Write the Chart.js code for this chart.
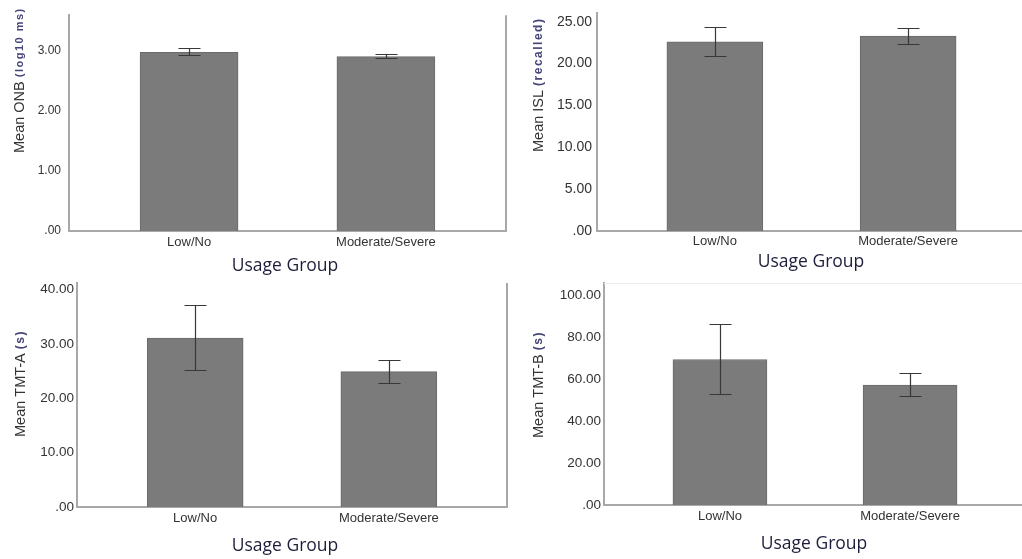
<!DOCTYPE html>
<html>
<head>
<meta charset="utf-8">
<script src="https://cdn.jsdelivr.net/npm/chart.js@4.4.1/dist/chart.umd.min.js"></script>
<style>
  html, body { margin: 0; padding: 0; background: #fff; }
  body { width: 1022px; height: 559px; position: relative; overflow: hidden; }
  canvas { position: absolute; }
</style>
</head>
<body>
<canvas id="onbChart"></canvas>
<canvas id="islChart"></canvas>
<canvas id="tmtaChart"></canvas>
<canvas id="tmtbChart"></canvas>
<script>
// categories
const groups = ['Low/No', 'Moderate/Severe'];

// ONB (log10 ms)
const onbMean = [2.98, 2.91];
const onbLow = [2.93, 2.88];
const onbHigh = [3.05, 2.95];
const onbTicks = [0, 1, 2, 3];

// ISL (recalled)
const islMean = [22.6, 23.3];
const islLow = [20.9, 22.4];
const islHigh = [24.4, 24.3];
const islTicks = [0, 5, 10, 15, 20, 25];

// TMT-A (s)
const tmtaMean = [31.1, 24.9];
const tmtaLow = [25.3, 22.8];
const tmtaHigh = [37.1, 27.0];
const tmtaTicks = [0, 10, 20, 30, 40];

// TMT-B (s)
const tmtbMean = [69.5, 57.3];
const tmtbLow = [52.8, 52.2];
const tmtbHigh = [86.7, 63.2];
const tmtbTicks = [0, 20, 40, 60, 80, 100];

const tickFmt = v => v === 0 ? '.00' : v.toFixed(2);

// draws error bars, frame lines and the axis titles
const decor = {
  id: 'decor',
  afterDatasetsDraw(chart, args, o) {
    const ctx = chart.ctx, x = chart.scales.x, y = chart.scales.y, a = chart.chartArea;
    ctx.save();
    ctx.strokeStyle = '#383838';
    ctx.lineWidth = 1.2;
    o.low.forEach((lo, i) => {
      const px = Math.round(x.getPixelForValue(i)) + 0.5;
      const y1 = Math.round(y.getPixelForValue(lo)) + 0.5;
      const y2 = Math.round(y.getPixelForValue(o.high[i])) + 0.5;
      ctx.beginPath();
      ctx.moveTo(px, y1); ctx.lineTo(px, y2);
      ctx.moveTo(px - 11, y1); ctx.lineTo(px + 11, y1);
      ctx.moveTo(px - 11, y2); ctx.lineTo(px + 11, y2);
      ctx.stroke();
    });
    if (o.frameRight) {
      ctx.strokeStyle = '#a8a8a8';
      ctx.lineWidth = 2;
      ctx.beginPath();
      ctx.moveTo(a.right, a.top); ctx.lineTo(a.right, a.bottom);
      ctx.stroke();
    }
    if (o.frameTop) {
      ctx.strokeStyle = '#ececec';
      ctx.lineWidth = 1;
      ctx.beginPath();
      ctx.moveTo(a.left, a.top + 0.5); ctx.lineTo(a.right, a.top + 0.5);
      ctx.stroke();
    }
    ctx.restore();
  },
  afterDraw(chart, args, o) {
    const ctx = chart.ctx;
    ctx.save();
    // y title, rotated, main part + small bold part
    ctx.translate(o.yTitle[0] - o.off[0], o.yTitle[1] - o.off[1]);
    ctx.rotate(-Math.PI / 2);
    ctx.textAlign = 'left';
    ctx.textBaseline = 'middle';
    ctx.font = '14.5px "Liberation Sans", Arial, sans-serif';
    ctx.fillStyle = '#333';
    ctx.fillText(o.yMain, 0, 0);
    const w = ctx.measureText(o.yMain).width;
    ctx.font = 'bold ' + o.subSize + 'px "Liberation Sans", Arial, sans-serif';
    ctx.letterSpacing = o.subSpacing + 'px';
    ctx.fillStyle = '#45457a';
    ctx.fillText(o.ySub, w + 4, 0);
    ctx.restore();
    // x title
    ctx.save();
    ctx.font = '17.5px "Open Sans", sans-serif';
    ctx.fillStyle = '#1e1e3c';
    ctx.textAlign = 'center';
    ctx.textBaseline = 'middle';
    ctx.fillText('Usage Group', o.xTitle[0] - o.off[0], o.xTitle[1] - o.off[1]);
    ctx.restore();
  }
};

function makePanel(id, p) {
  const cv = document.getElementById(id);
  cv.width = p.box[2]; cv.height = p.box[3];
  cv.style.left = p.box[0] + 'px'; cv.style.top = p.box[1] + 'px';
  new Chart(cv, {
    type: 'bar',
    data: {
      datasets: [{
        data: groups.map((g, i) => ({ x: i, y: p.mean[i] })),
        backgroundColor: '#7b7b7b',
        borderColor: '#6a6a6a',
        borderWidth: 1,
        barThickness: p.barW
      }]
    },
    plugins: [decor],
    options: {
      responsive: false,
      animation: false,
      devicePixelRatio: 1,
      layout: {
        padding: { left: 0, bottom: 0, top: p.T - p.box[1], right: p.box[0] + p.box[2] - p.R }
      },
      plugins: {
        legend: { display: false },
        tooltip: { enabled: false },
        decor: {
          low: p.low, high: p.high, off: [p.box[0], p.box[1]],
          yMain: p.yMain, ySub: p.ySub, subSize: p.subSize, subSpacing: p.subSpacing,
          yTitle: p.yTitle, xTitle: p.xTitle, frameRight: p.frameRight, frameTop: p.frameTop
        }
      },
      scales: {
        x: {
          type: 'linear',
          min: -0.61, max: 1.61,
          offset: false,
          grid: { display: false, drawTicks: false, offset: false },
          border: { color: '#a8a8a8', width: 2 },
          afterBuildTicks: s => { s.ticks = groups.map((g, i) => ({ value: i })); },
          afterFit: s => { s.height = p.box[1] + p.box[3] - p.B; },
          ticks: {
            autoSkip: false, maxRotation: 0, padding: p.xPad,
            color: '#333',
            font: { family: '"Liberation Sans", Arial, sans-serif', size: 13 },
            callback: v => groups[v]
          }
        },
        y: {
          min: 0, max: p.yMax,
          grid: { display: false, drawTicks: false },
          border: { color: '#a8a8a8', width: 2 },
          afterBuildTicks: s => { s.ticks = p.ticks.map(v => ({ value: v })); },
          afterFit: s => { s.width = p.L - p.box[0]; },
          ticks: {
            padding: p.yPad, color: '#333',
            font: { family: '"Liberation Sans", Arial, sans-serif', size: p.tickSize },
            callback: tickFmt
          }
        }
      }
    }
  });
}

makePanel('onbChart', {
  box: [0, 0, 511, 278], L: 69, R: 506, T: 7, B: 231, yMax: 3.6,
  mean: onbMean, low: onbLow, high: onbHigh, ticks: onbTicks, barW: 98,
  tickSize: 12, yPad: 8, xPad: 4,
  yMain: 'Mean ONB', ySub: '(log10 ms)', subSize: 11, subSpacing: 1.5,
  yTitle: [20, 153], xTitle: [285, 266], frameRight: true
});
makePanel('islChart', {
  box: [511, 0, 520, 278], L: 597, R: 1026, T: 7, B: 231, yMax: 26,
  mean: islMean, low: islLow, high: islHigh, ticks: islTicks, barW: 96,
  tickSize: 14, yPad: 5, xPad: 3,
  yMain: 'Mean ISL', ySub: '(recalled)', subSize: 12, subSpacing: 1.5,
  yTitle: [539, 152], xTitle: [811, 262]
});
makePanel('tmtaChart', {
  box: [0, 272, 511, 287], L: 77, R: 507, T: 280, B: 507, yMax: 41.2,
  mean: tmtaMean, low: tmtaLow, high: tmtaHigh, ticks: tmtaTicks, barW: 96,
  tickSize: 13.5, yPad: 3, xPad: 4,
  yMain: 'Mean TMT-A', ySub: '(s)', subSize: 12, subSpacing: 1.5,
  yTitle: [21, 437], xTitle: [285, 546], frameRight: true
});
makePanel('tmtbChart', {
  box: [511, 272, 520, 287], L: 604, R: 1026, T: 280, B: 505, yMax: 106,
  mean: tmtbMean, low: tmtbLow, high: tmtbHigh, ticks: tmtbTicks, barW: 94,
  tickSize: 13.5, yPad: 3, xPad: 4,
  yMain: 'Mean TMT-B', ySub: '(s)', subSize: 12, subSpacing: 1.5,
  yTitle: [539, 438], xTitle: [814, 544], frameTop: true
});
</script>
</body>
</html>
